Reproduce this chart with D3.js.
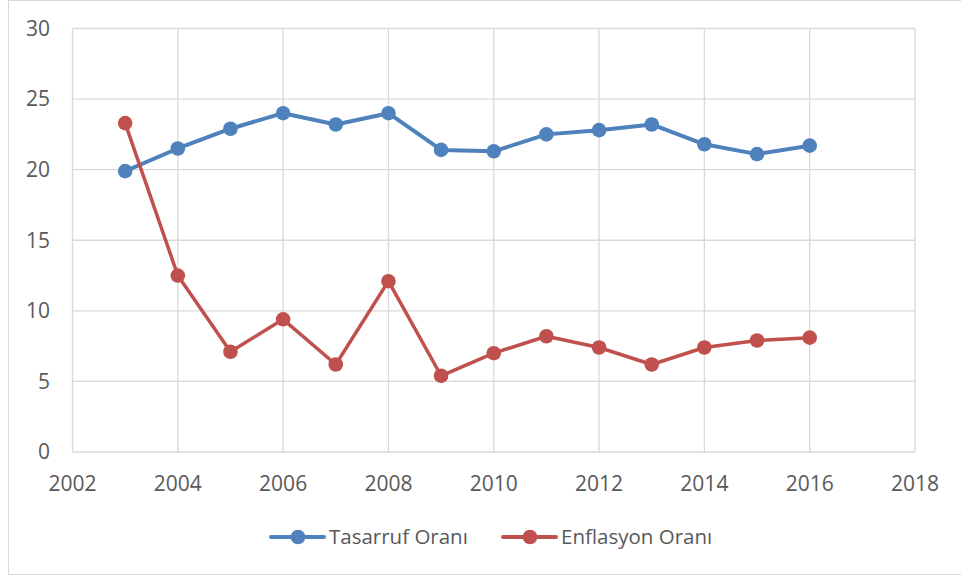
<!DOCTYPE html>
<html>
<head>
<meta charset="utf-8">
<script src="https://d3js.org/d3.v7.min.js"></script>
<style>
body { margin: 0; background: #fff; }
text { font-family: "Open Sans", "Liberation Sans", sans-serif; fill: #595959; }
</style>
</head>
<body>
<div id="chart"></div>
<script>
// data
var years = [2003, 2004, 2005, 2006, 2007, 2008, 2009, 2010, 2011, 2012, 2013, 2014, 2015, 2016];
var tasarruf = [19.9, 21.5, 22.9, 24.0, 23.2, 24.0, 21.4, 21.3, 22.5, 22.8, 23.2, 21.8, 21.1, 21.7];
var enflasyon = [23.3, 12.5, 7.1, 9.4, 6.2, 12.1, 5.4, 7.0, 8.2, 7.4, 6.2, 7.4, 7.9, 8.1];
var seriesNames = ["Tasarruf Oranı", "Enflasyon Oranı"];
var xTicks = [2002, 2004, 2006, 2008, 2010, 2012, 2014, 2016, 2018];
var yTicks = [0, 5, 10, 15, 20, 25, 30];

var W = 961, H = 576;
var colors = ["#4F81BD", "#C0504D"];

var svg = d3.select("#chart").append("svg")
  .attr("width", W)
  .attr("height", H);

// outer chart border
svg.append("rect")
  .attr("x", 8.5).attr("y", 0.5)
  .attr("width", W).attr("height", 574)
  .attr("fill", "none")
  .attr("stroke", "#d9d9d9");

var x = d3.scaleLinear().domain([2002, 2018]).range([72.5, 915]);
var y = d3.scaleLinear().domain([0, 30]).range([452, 28.5]);

// gridlines
svg.append("g").selectAll("line.h")
  .data(yTicks).enter().append("line")
  .attr("x1", x(2002)).attr("x2", x(2018))
  .attr("y1", d => y(d)).attr("y2", d => y(d))
  .attr("stroke", "#d9d9d9").attr("stroke-width", 1.3);

svg.append("g").selectAll("line.v")
  .data(xTicks).enter().append("line")
  .attr("x1", d => x(d)).attr("x2", d => x(d))
  .attr("y1", y(0)).attr("y2", y(30))
  .attr("stroke", "#d9d9d9").attr("stroke-width", 1.3);

// y labels
svg.append("g").selectAll("text")
  .data(yTicks).enter().append("text")
  .attr("x", 50)
  .attr("y", d => y(d))
  .attr("dy", "0.35em")
  .attr("text-anchor", "end")
  .style("font-size", "21px")
  .text(d => d);

// x labels
svg.append("g").selectAll("text")
  .data(xTicks).enter().append("text")
  .attr("x", d => x(d))
  .attr("y", 484)
  .attr("dy", "0.35em")
  .attr("text-anchor", "middle")
  .style("font-size", "21px")
  .text(d => d);

var line = d3.line()
  .x((d, i) => x(years[i]))
  .y(d => y(d));

[tasarruf, enflasyon].forEach(function(vals, k) {
  var g = svg.append("g");
  g.append("path")
    .datum(vals)
    .attr("d", line)
    .attr("fill", "none")
    .attr("stroke", colors[k])
    .attr("stroke-width", k == 0 ? 4 : 3.5)
    .attr("stroke-linejoin", "round");
  g.selectAll("circle")
    .data(vals).enter().append("circle")
    .attr("cx", (d, i) => x(years[i]))
    .attr("cy", d => y(d))
    .attr("r", 7.3)
    .attr("fill", colors[k]);
});

// legend
var legendX = [271, 503];
var leg = svg.append("g").selectAll("g")
  .data(seriesNames).enter().append("g")
  .attr("transform", (d, i) => "translate(" + legendX[i] + ",537)");
leg.append("line")
  .attr("x1", 0).attr("x2", 53)
  .attr("stroke", (d, i) => colors[i])
  .attr("stroke-width", 4)
  .attr("stroke-linecap", "round");
leg.append("circle")
  .attr("cx", 27).attr("r", 7.3)
  .attr("fill", (d, i) => colors[i]);
leg.append("text")
  .attr("x", 58)
  .attr("dy", "0.35em")
  .style("font-size", "20.5px")
  .text(d => d);
</script>
</body>
</html>
